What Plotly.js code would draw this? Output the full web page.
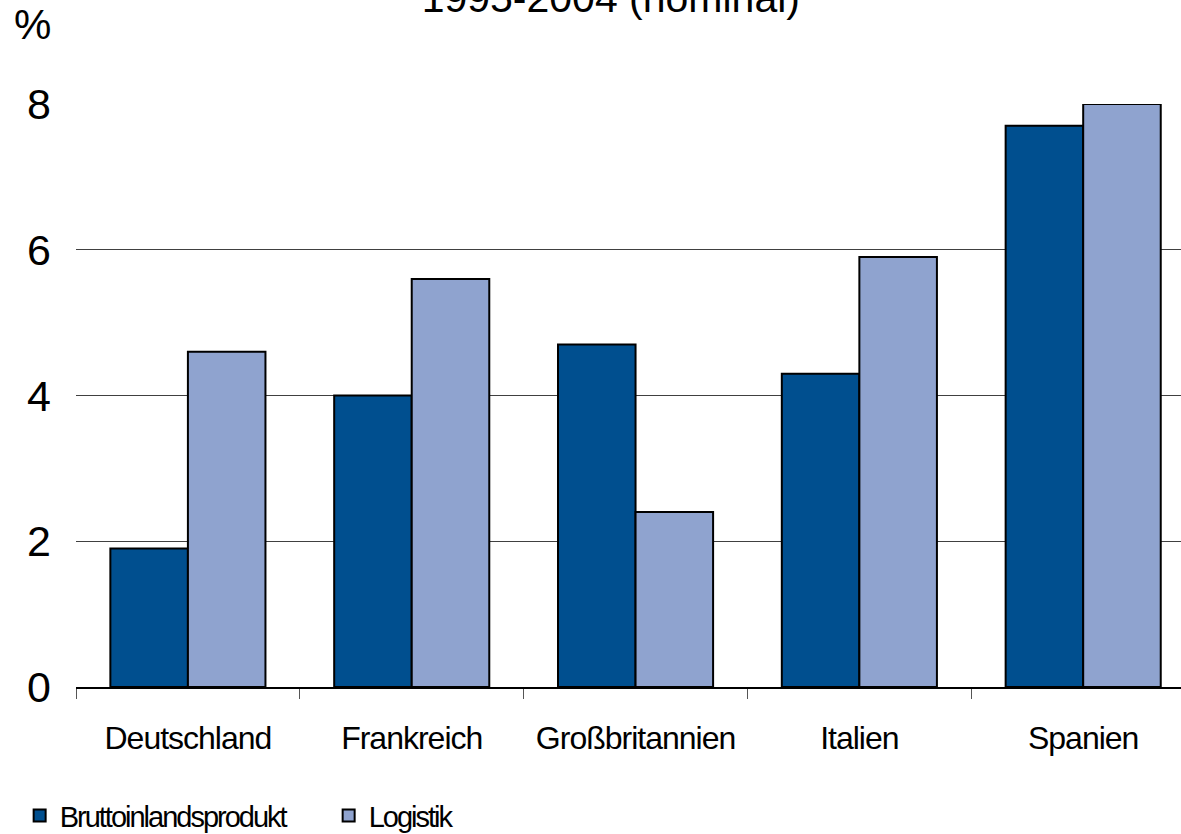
<!DOCTYPE html>
<html>
<head>
<meta charset="utf-8">
<script src="https://cdn.plot.ly/plotly-3.0.1.min.js"></script>
<style>
  html, body { margin: 0; padding: 0; background: #fff; }
  #chart { width: 1181px; height: 834px; }
  .legendtext { letter-spacing: -2px; }
  .xtick text { letter-spacing: -1px; }
</style>
</head>
<body>
<div id="chart"></div>
<script>
const categories = ["Deutschland", "Frankreich", "Großbritannien", "Italien", "Spanien"];
const bipValues = [1.9, 4.0, 4.7, 4.3, 7.7];
const logistikValues = [4.6, 5.6, 2.4, 5.9, 8.0];
const seriesNames = ["Bruttoinlandsprodukt", "Logistik"];
const yTickValues = [0, 2, 4, 6, 8];
const titleText = "1995-2004 (nominal)";
const unitLabel = "%";

const regular = '"Liberation Sans", Arial, sans-serif';

const traces = [
  {
    type: "bar", name: seriesNames[0], x: categories, y: bipValues,
    marker: { color: "#004F8F", line: { color: "#000", width: 2 } }
  },
  {
    type: "bar", name: seriesNames[1], x: categories, y: logistikValues,
    marker: { color: "#8FA3CF", line: { color: "#000", width: 2 } }
  }
];

const layout = {
  width: 1181, height: 834,
  margin: { l: 76, r: 0, t: 104, b: 147, pad: 0, autoexpand: false },
  paper_bgcolor: "#fff", plot_bgcolor: "#fff",
  barmode: "group", bargap: 0.307, bargroupgap: 0,
  showlegend: true,
  title: {
    text: titleText,
    font: { family: regular, size: 41, color: "#000" },
    xref: "paper", x: 0.484, xanchor: "center",
    yref: "container", y: 1 - 12 / 834, yanchor: "bottom"
  },
  xaxis: {
    type: "category",
    range: [-0.5, 4.437],
    automargin: false,
    tickangle: 0,
    showgrid: false,
    showline: true, linecolor: "#000", linewidth: 1.5,
    ticks: "outside", tickson: "boundaries", ticklen: 10, tickcolor: "#555", tickwidth: 1,
    ticklabelstandoff: 22,
    tickfont: { family: regular, size: 32, color: "#000" },
    zeroline: false
  },
  yaxis: {
    range: [0, 8],
    automargin: false,
    tickvals: yTickValues,
    ticktext: yTickValues.map(String),
    showgrid: true, gridcolor: "#404040", gridwidth: 1,
    showline: false, zeroline: false, ticks: "",
    ticklabelstandoff: 24,
    tickfont: { family: regular, size: 43, color: "#000" }
  },
  legend: {
    orientation: "h",
    x: -0.051, xanchor: "left",
    y: -0.177, yanchor: "top",
    font: { family: regular, size: 29, color: "#000" },
    entrywidth: 264, entrywidthmode: "pixels",
    bgcolor: "rgba(0,0,0,0)"
  },
  annotations: [
    {
      text: unitLabel, showarrow: false,
      xref: "paper", yref: "paper",
      x: (12 - 76) / 1105, xanchor: "left",
      y: (687 - 25) / 583, yanchor: "middle",
      font: { family: regular, size: 42, color: "#000" }
    }
  ]
};

Plotly.newPlot("chart", traces, layout, { displayModeBar: false, staticPlot: true });
</script>
</body>
</html>
